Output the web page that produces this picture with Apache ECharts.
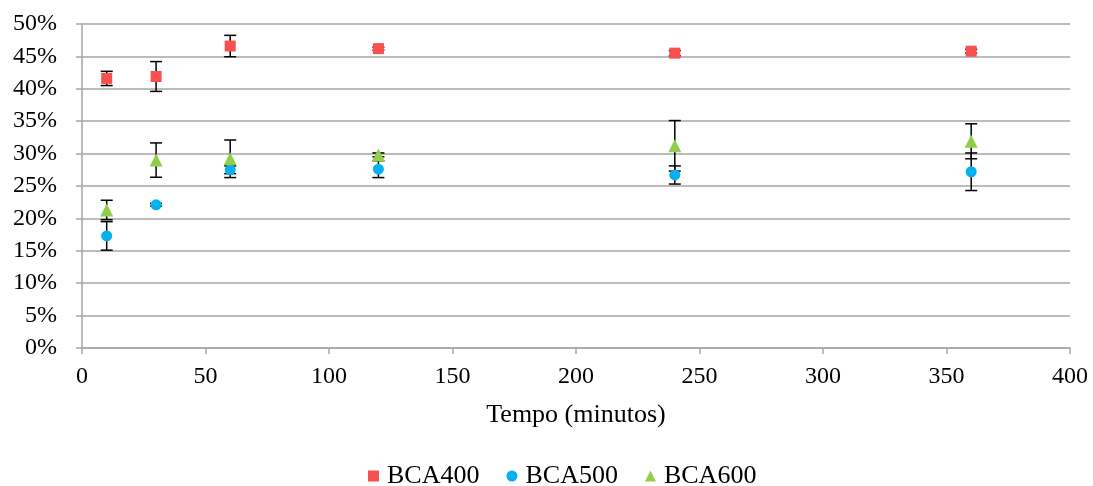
<!DOCTYPE html>
<html>
<head>
<meta charset="utf-8">
<script src="https://cdn.jsdelivr.net/npm/echarts@6/dist/echarts.min.js"></script>
<style>
  html, body { margin: 0; padding: 0; background: #fff; }
  #chart { width: 1093px; height: 486px; }
</style>
</head>
<body>
<div id="chart"></div>
<script>
// tempo (minutos)
const tempos = [10, 30, 60, 120, 240, 360]

// médias (%) e desvios (%)
const bca400 = [41.6, 41.9, 46.6, 46.2, 45.5, 45.8]
const bca400Err = [1.1, 2.3, 1.65, 0.2, 0.4, 0.3]
const bca500 = [17.3, 22.1, 27.5, 27.6, 26.7, 27.2]
const bca500Err = [2.2, 0.2, 0.6, 1.3, 1.4, 2.9]
const bca600 = [21.3, 29.0, 29.2, 29.8, 31.2, 31.9]
const bca600Err = [1.5, 2.65, 2.9, 0.3, 3.9, 2.7]

const font = '"Liberation Serif", "Times New Roman", serif'
const gridColor = '#a6a6a6'

const chart = echarts.init(document.getElementById('chart'))

const pairs = (vals) => tempos.map((t, i) => [t, vals[i]])
const errData = (vals, errs) => tempos.map((t, i) => [t, vals[i] - errs[i], vals[i] + errs[i]])

// barra de erro com traço nas pontas
const renderError = (params, api) => {
  const lo = api.coord([api.value(0), api.value(1)])
  const hi = api.coord([api.value(0), api.value(2)])
  const cap = 6
  const style = { stroke: '#000', lineWidth: 1.5 }
  return {
    type: 'group',
    children: [
      { type: 'line', shape: { x1: hi[0], y1: hi[1], x2: lo[0], y2: lo[1] }, style },
      { type: 'line', shape: { x1: hi[0] - cap, y1: hi[1], x2: hi[0] + cap, y2: hi[1] }, style },
      { type: 'line', shape: { x1: lo[0] - cap, y1: lo[1], x2: lo[0] + cap, y2: lo[1] }, style }
    ]
  }
}

const errSeries = (vals, errs) => ({
  type: 'custom',
  renderItem: renderError,
  data: errData(vals, errs),
  encode: { x: 0, y: [1, 2] },
  z: 1,
  silent: true,
  tooltip: { show: false }
})

const option = {
  animation: false,
  grid: { left: 82, right: 23, top: 24, bottom: 138, containLabel: false },
  xAxis: {
    type: 'value',
    min: 0,
    max: 400,
    interval: 50,
    name: 'Tempo (minutos)',
    nameLocation: 'middle',
    nameGap: 54,
    nameTextStyle: { fontFamily: font, fontSize: 26, color: '#000' },
    axisLine: { show: true, lineStyle: { color: gridColor, width: 1.5 } },
    axisTick: { show: true, length: 6, lineStyle: { color: gridColor, width: 1.5 } },
    axisLabel: { fontFamily: font, fontSize: 24, color: '#000', margin: 17 },
    splitLine: { show: false }
  },
  yAxis: {
    type: 'value',
    min: 0,
    max: 50,
    interval: 5,
    axisLine: { show: true, lineStyle: { color: gridColor, width: 1.5 } },
    axisTick: { show: true, length: 6, inside: false, lineStyle: { color: gridColor, width: 1.5 } },
    axisLabel: { fontFamily: font, fontSize: 24, color: '#000', margin: 25, formatter: '{value}%' },
    splitLine: { show: true, lineStyle: { color: gridColor, width: 1.5 } }
  },
  legend: {
    top: 458,
    left: 363,
    itemWidth: 11,
    itemHeight: 11,
    itemGap: 27,
    textStyle: { fontFamily: font, fontSize: 26, color: '#000', padding: [0, 0, 0, 3] },
    data: ['BCA400', 'BCA500', 'BCA600']
  },
  series: [
    errSeries(bca400, bca400Err),
    errSeries(bca500, bca500Err),
    errSeries(bca600, bca600Err),
    {
      name: 'BCA400',
      type: 'scatter',
      symbol: 'rect',
      symbolSize: 11,
      itemStyle: { color: '#f84f4f', opacity: 1 },
      data: pairs(bca400),
      z: 3
    },
    {
      name: 'BCA500',
      type: 'scatter',
      symbol: 'circle',
      symbolSize: 11,
      itemStyle: { color: '#05b0ef', opacity: 1 },
      data: pairs(bca500),
      z: 3
    },
    {
      name: 'BCA600',
      type: 'scatter',
      symbol: 'triangle',
      symbolSize: 13,
      itemStyle: { color: '#8fcf4b', opacity: 1 },
      data: pairs(bca600),
      z: 3
    }
  ]
}

chart.setOption(option)
</script>
</body>
</html>
